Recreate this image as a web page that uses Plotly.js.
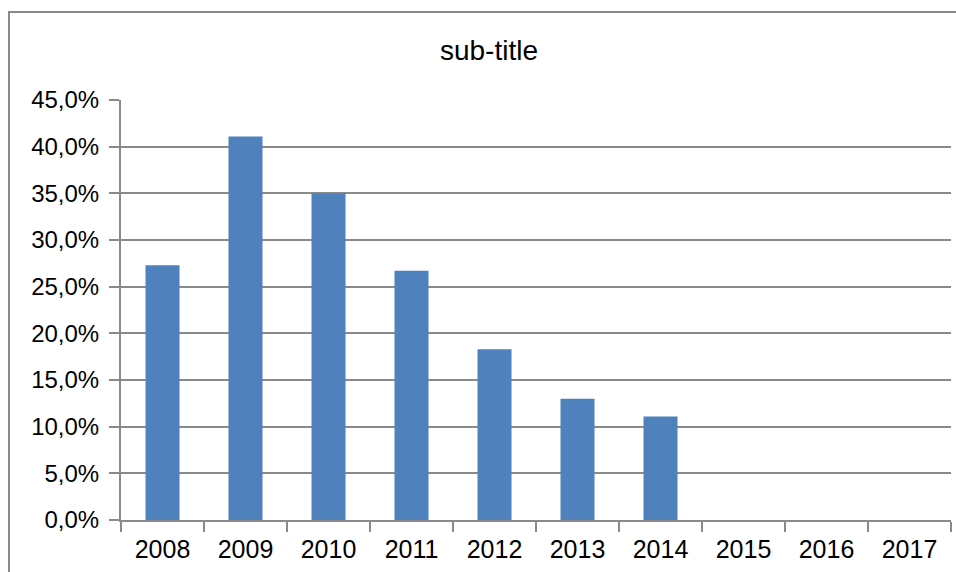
<!DOCTYPE html>
<html>
<head>
<meta charset="utf-8">
<script src="https://cdn.plot.ly/plotly-3.0.1.min.js"></script>
<style>
html,body{margin:0;padding:0;background:#fff;}
#chart{width:956px;height:572px;}
</style>
</head>
<body>
<div id="chart"></div>
<script>
const categories = ['2008','2009','2010','2011','2012','2013','2014','2015','2016','2017'];
const values = [0.273, 0.411, 0.350, 0.267, 0.183, 0.130, 0.111, null, null, null];
const chartTitle = 'sub-title';

const gridColor = '#8a8a8a';
const font = 'Liberation Sans, Arial, sans-serif';

const trace = {
  type: 'bar',
  x: categories,
  y: values,
  marker: {color: '#4f81bd'},
  hoverinfo: 'x+y'
};

const layout = {
  width: 956,
  height: 572,
  margin: {l: 121, r: 5, t: 100, b: 52},
  paper_bgcolor: '#fff',
  plot_bgcolor: '#fff',
  bargap: 0.59,
  showlegend: false,
  separators: ',.',
  font: {family: font, color: '#000', size: 24},
  title: {
    text: chartTitle,
    font: {family: font, size: 28, color: '#000'},
    x: 489/956, xanchor: 'center', xref: 'container',
    y: 1 - 50/572, yanchor: 'middle', yref: 'container'
  },
  xaxis: {
    type: 'category',
    showgrid: false,
    showline: true,
    linecolor: gridColor,
    linewidth: 2,
    ticks: 'outside',
    tickson: 'boundaries',
    ticklen: 10,
    tickwidth: 2,
    tickcolor: gridColor,
    ticklabelstandoff: 6,
    tickfont: {family: font, size: 25, color: '#000'},
    fixedrange: true
  },
  yaxis: {
    range: [0, 0.45],
    dtick: 0.05,
    tick0: 0,
    tickformat: '.1%',
    showgrid: true,
    gridcolor: gridColor,
    gridwidth: 2,
    zeroline: false,
    showline: true,
    linecolor: gridColor,
    linewidth: 2,
    ticks: 'outside',
    ticklen: 10,
    tickwidth: 2,
    tickcolor: gridColor,
    ticklabelstandoff: 5,
    tickfont: {family: font, size: 24, color: '#000'},
    fixedrange: true
  },
  shapes: [{
    type: 'path',
    xref: 'paper', yref: 'paper',
    path: 'M ' + ((9-121)/830) + ' ' + ((520-600)/420) + ' L ' + ((9-121)/830) + ' ' + ((520-12)/420) + ' L ' + ((1000-121)/830) + ' ' + ((520-12)/420),
    line: {color: '#8a8a8a', width: 2},
    layer: 'above'
  }]
};

Plotly.newPlot('chart', [trace], layout, {displayModeBar: false, staticPlot: true});
</script>
</body>
</html>
